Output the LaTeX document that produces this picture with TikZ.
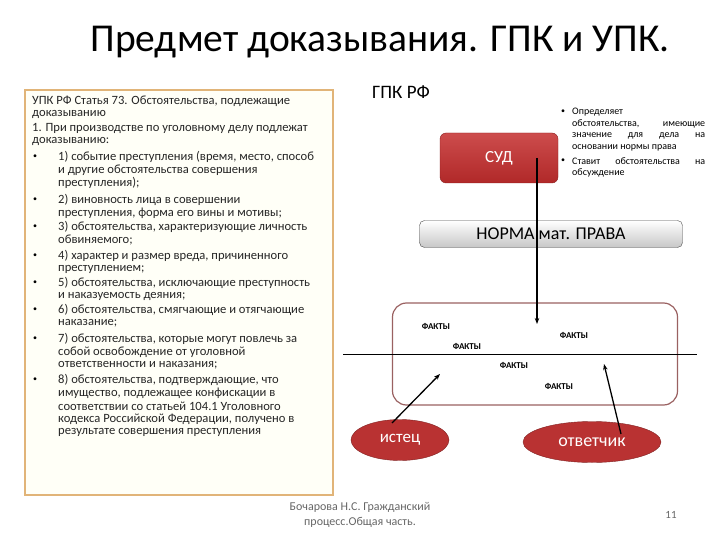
\documentclass[tikz,border=0pt]{standalone}
\usepackage{fontspec}
\setmainfont{Carlito}
\usetikzlibrary{shapes.geometric,arrows.meta}
\definecolor{sudred}{RGB}{196,45,45}
\definecolor{elred}{RGB}{185,50,50}
\definecolor{tan}{RGB}{225,180,120}
\tikzset{
 lt/.style={anchor=west,inner sep=0pt,font=\fontsize{12.6}{14}\selectfont,text=black!85},
 bul/.style={anchor=west,inner sep=0pt,font=\fontsize{8}{9}\selectfont},
 rt/.style={anchor=west,inner sep=0pt,font=\fontsize{10}{11}\selectfont},
 fakt/.style={font=\fontsize{9}{10}\selectfont\bfseries,inner sep=0pt},
 arr/.style={-{Stealth[length=6pt]},line width=1.3pt}
}
\begin{document}
\begin{tikzpicture}[x=1pt,y=-1pt]
\useasboundingbox (0,0) rectangle (720,540);
\node[font=\fontsize{39.5}{44}\selectfont] (title) at (380,42) {Предмет доказывания. ГПК и УПК.};
\draw[tan,line width=1.5pt,fill=yellow!3] (25,90) rectangle (333,495);
\foreach \t/\y in {{УПК РФ Статья 73. Обстоятельства, подлежащие}/101,{доказыванию}/114,{1. При производстве по уголовному делу подлежат}/128,{доказыванию:}/141}
 \node[lt] at (32,\y) {\t};
\foreach \y in {157,200,227,256,283,310,339,380}
 \node[bul] at (33,\y) {\textbullet};
\foreach \t/\y in {{1) событие преступления (время, место, способ}/157,{и другие обстоятельства совершения}/170,{преступления);}/183,
{2) виновность лица в совершении}/200,{преступления, форма его вины и мотивы;}/213,
{3) обстоятельства, характеризующие личность}/227,{обвиняемого;}/240,
{4) характер и размер вреда, причиненного}/256,{преступлением;}/269,
{5) обстоятельства, исключающие преступность}/283,{и наказуемость деяния;}/296,
{6) обстоятельства, смягчающие и отягчающие}/310,{наказание;}/323,
{7) обстоятельства, которые могут повлечь за}/339,{собой освобождение от уголовной}/352,{ответственности и наказания;}/365,
{8) обстоятельства, подтверждающие, что}/380,{имущество, подлежащее конфискации в}/393,{соответствии со статьей 104.1 Уголовного}/406,{кодекса Российской Федерации, получено в}/419,{результате совершения преступления}/432}
 \node[lt] at (58,\y) {\t};
\node[font=\fontsize{19}{21}\selectfont] (gpk) at (401,92) {ГПК РФ};
\node[draw=sudred!70!black,rounded corners=6pt,top color=sudred!85!white,bottom color=sudred!90!black,minimum width=118pt,minimum height=50pt,text=white,font=\fontsize{17}{19}\selectfont] (sud) at (499,158) {СУД};
\node[bul] at (561,112) {\textbullet};
\node[bul] at (561,161) {\textbullet};
\foreach \t/\y in {{Определяет}/112,{\makebox[133pt][s]{обстоятельства, имеющие}}/124,{\makebox[133pt][s]{значение для дела на}}/136,{основании нормы права}/148,{\makebox[133pt][s]{Ставит обстоятельства на}}/161,{обсуждение}/173}
 \node[rt] at (572,\y) {\t};
\node[draw=black!70,rounded corners=5pt,top color=white,bottom color=black!22,minimum width=263pt,minimum height=27pt,font=\fontsize{18}{20}\selectfont] (norma) at (551,234) {НОРМА мат. ПРАВА};
\node[draw=elred!60!black!70,line width=1.2pt,rounded corners=14pt,minimum width=285pt,minimum height=102pt] (box) at (535,354) {};
\coordinate (top) at (537,158);
\coordinate (bot) at (537,324);
\draw[arr] (top) -- (bot);
\coordinate (hl) at (343,354);
\coordinate (hr) at (697,354);
\draw (hl) -- (hr);
\node[fakt] (f1) at (436,326) {ФАКТЫ};
\node[fakt] (f2) at (467,346) {ФАКТЫ};
\node[fakt] (f3) at (574,335) {ФАКТЫ};
\node[fakt] (f4) at (514,365) {ФАКТЫ};
\node[fakt] (f5) at (559,386) {ФАКТЫ};
\node[ellipse,draw=elred!70!black,fill=elred,minimum width=98pt,minimum height=41pt,text=white,font=\fontsize{17}{19}\selectfont] (ist) at (400,440) {истец};
\node[ellipse,draw=elred!70!black,fill=elred,minimum width=138pt,minimum height=41pt,text=white,font=\fontsize{18}{20}\selectfont] (otv) at (592,442) {ответчик};
\coordinate (s1) at (392,423);
\coordinate (a1) at (440,374);
\coordinate (s2) at (621,434);
\coordinate (a2) at (604,364);
\draw[arr] (s1) -- (a1);
\draw[arr] (s2) -- (a2);
\node[align=center,text=black!60,font=\fontsize{12}{15}\selectfont] (foot) at (360,515) {Бочарова Н.С. Гражданский\\процесс.Общая часть.};
\node[text=black!60,font=\fontsize{11}{12}\selectfont] (num) at (671,515) {11};
\end{tikzpicture}
\end{document}
